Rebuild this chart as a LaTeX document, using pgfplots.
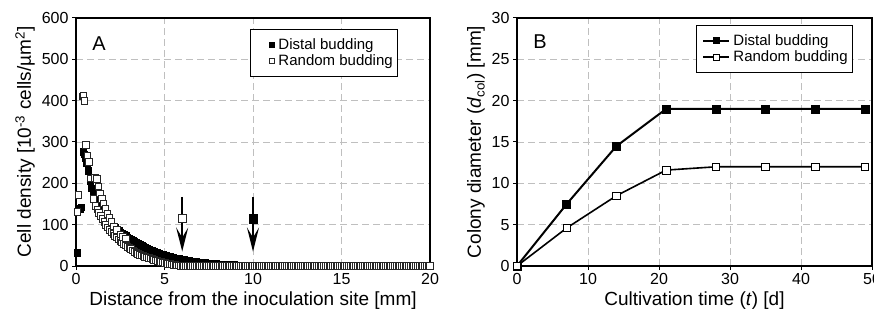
\documentclass[border=0pt]{standalone}
\usepackage{fontspec}
\setmainfont{Liberation Sans}
\usepackage{pgfplots}
\pgfplotsset{compat=1.18}
\usetikzlibrary{arrows.meta}
\begin{document}
\begin{tikzpicture}
\pgfplotsset{
  every axis/.append style={
    scale only axis, height=248pt, anchor=south west,
    axis line style={line width=1.5pt},
    grid=major,
    major grid style={gray!50, dash pattern=on 7pt off 4pt, line width=0.8pt},
    tick align=outside, major tick length=4pt, tick style={black, line width=1pt},
    tick pos=left,
    ticklabel style={font=\fontsize{16}{16}\selectfont},
    /pgf/number format/assume math mode=true,
    label style={font=\fontsize{19}{19}\selectfont},
    legend style={font=\fontsize{15}{17}\selectfont, draw=black, line width=1pt,
      anchor=north west, cells={anchor=west}, inner xsep=3pt, inner ysep=7pt},
  },
  legA/.style={legend image code/.code={\path[draw=none,fill=none] (0pt,-3pt) rectangle (23pt,3pt); \draw[##1, mark size=2.4pt] plot coordinates {(18pt,0pt)};}},
  legB/.style={legend image code/.code={\path[draw=none,fill=none] (0pt,-3pt) rectangle (32pt,3pt); \draw[mark repeat=2, mark phase=2, ##1, line width=1.8pt, mark size=3pt] plot coordinates {(4pt,0pt)(17pt,0pt)(30pt,0pt)};}},
}
% ---------------- Panel A ----------------
\begin{axis}[at={(76pt,55pt)}, width=354pt,
  xmin=0, xmax=20, ymin=0, ymax=600,
  xtick={0,5,10,15,20}, ytick={0,100,200,300,400,500,600},
  xlabel={Distance from the inoculation site [mm]},
  ylabel={Cell density [10\textsuperscript{-3} cells/µm\textsuperscript{2}]},
  legend style={at={(0.4915,0.956)}},
]
\addplot[legA, only marks, mark=square*, mark size=3.3pt, mark options={fill=black, draw=black, line width=0.5pt}] coordinates {
(0.07,32)(0.2,138)(0.3,142)(0.41,276)(0.47,270)(0.52,262)(0.6,250)(0.7,230)(0.8,205)(0.9,188)
(1.0,178)(1.1,165)(1.2,152)(1.3,142)(1.4,133)(1.5,125)(1.6,117)(1.7,112)(1.8,107)(1.9,103)
(2.0,100)(2.1,96)(2.2,92)(2.3,88)(2.4,85)(2.5,82)(2.6,79)(2.7,76)(2.8,73)(2.9,70)
(3.0,67)(3.1,64)(3.2,61)(3.3,58.5)(3.4,56)(3.5,53.5)(3.6,51)(3.7,48.5)(3.8,46.5)(3.9,44.5)
(4.0,42.5)(4.1,40.5)(4.2,38.5)(4.3,36.5)(4.4,35)(4.5,33)(4.6,31.5)(4.7,30)(4.8,28.5)(4.9,27)
(5.0,25.5)(5.1,24.5)(5.2,23)(5.3,22)(5.4,21)(5.5,20)(5.6,19)(5.7,18)(5.8,17)(5.9,16)
(6.0,15.3)(6.1,14.5)(6.2,13.8)(6.3,13)(6.4,12.3)(6.5,11.7)(6.6,11)(6.7,10.4)(6.8,9.8)(6.9,9.2)
(7.0,8.7)(7.1,8.2)(7.2,7.7)(7.3,7.3)(7.4,6.9)(7.5,6.5)(7.6,6.1)(7.7,5.7)(7.8,5.4)(7.9,5.0)
(8.0,4.7)(8.1,4.4)(8.2,4.1)(8.3,3.8)(8.4,3.5)(8.5,3.2)(8.6,3.0)(8.7,2.7)(8.8,2.5)(8.9,2.3)
(9.0,2.1)(9.1,1.9)(9.2,1.7)(9.3,1.55)(9.4,1.4)(9.5,1.25)(9.6,1.1)(9.7,0.95)(9.8,0.8)(9.9,0.7)
(10.0,0.6)(10.1,0)(10.2,0)(10.3,0)(10.4,0)(10.5,0)(10.6,0)(10.7,0)(10.8,0)(10.9,0)
(11,0)(11.1,0)(11.2,0)(11.3,0)(11.4,0)(11.5,0)(11.6,0)(11.7,0)(11.8,0)(11.9,0)
(12,0)(12.1,0)(12.2,0)(12.3,0)(12.4,0)(12.5,0)(12.6,0)(12.7,0)(12.8,0)(12.9,0)
(13,0)(13.1,0)(13.2,0)(13.3,0)(13.4,0)(13.5,0)(13.6,0)(13.7,0)(13.8,0)(13.9,0)
(14,0)(14.1,0)(14.2,0)(14.3,0)(14.4,0)(14.5,0)(14.6,0)(14.7,0)(14.8,0)(14.9,0)
(15,0)(15.1,0)(15.2,0)(15.3,0)(15.4,0)(15.5,0)(15.6,0)(15.7,0)(15.8,0)(15.9,0)
(16,0)(16.1,0)(16.2,0)(16.3,0)(16.4,0)(16.5,0)(16.6,0)(16.7,0)(16.8,0)(16.9,0)
(17,0)(17.1,0)(17.2,0)(17.3,0)(17.4,0)(17.5,0)(17.6,0)(17.7,0)(17.8,0)(17.9,0)
(18,0)(18.1,0)(18.2,0)(18.3,0)(18.4,0)(18.5,0)(18.6,0)(18.7,0)(18.8,0)(18.9,0)
(19,0)(19.1,0)(19.2,0)(19.3,0)(19.4,0)(19.5,0)(19.6,0)(19.7,0)(19.8,0)(19.9,0)
(20,0)
};
\addlegendentry{Distal budding}
\addplot[legA, only marks, mark=square*, mark size=3.3pt, mark options={fill=white, draw=black!85, line width=0.6pt}] coordinates {
(0.07,131)(0.13,172)(0.38,411)(0.42,413)(0.47,399)(0.55,293)(0.64,268)(0.73,252)(0.8,212)
(0.98,162)(1.1,146)(1.2,137)(1.3,129)(1.4,121)(1.5,114)(1.6,107)(1.7,100)(1.8,94)(1.9,88)
(2.0,83)(2.1,78)(2.2,73)(2.3,69)(2.4,65)(2.5,61)(2.6,57)(2.7,54)(2.8,50)(2.9,47)
(1.07,213)(1.17,211)(1.26,193)(1.36,176)(1.45,163)(1.54,152)(1.65,139)(1.77,127)(1.88,116)
(2.0,107)(2.15,96)(2.3,87)(2.5,77)(2.65,71)(2.82,67)
(3.0,44)(3.1,41)(3.2,38)(3.3,35)(3.4,32)(3.5,29)(3.6,27)(3.7,25.5)(3.8,24)(3.9,22.5)
(4.0,21)(4.1,20)(4.2,18.5)(4.3,17)(4.4,15.5)(4.5,14)(4.6,12.5)(4.7,11)(4.8,9.8)(4.9,8.6)
(5.0,7.5)(5.1,6.5)(5.2,5.6)(5.3,4.8)(5.4,4.0)(5.5,3.3)(5.6,2.7)(5.7,2.1)(5.8,1.6)(5.9,1.2)
(6.0,0.8)(6.1,0.5)(6.2,0.3)(6.3,0.2)(6.4,0.1)(6.5,0)(6.6,0)(6.7,0)(6.8,0)(6.9,0)
(7,0)(7.1,0)(7.2,0)(7.3,0)(7.4,0)(7.5,0)(7.6,0)(7.7,0)(7.8,0)(7.9,0)
(8,0)(8.1,0)(8.2,0)(8.3,0)(8.4,0)(8.5,0)(8.6,0)(8.7,0)(8.8,0)(8.9,0)
(9,0)(9.1,0)(9.2,0)(9.3,0)(9.4,0)(9.5,0)(9.6,0)(9.7,0)(9.8,0)(9.9,0)
(10,0)(10.1,0)(10.2,0)(10.3,0)(10.4,0)(10.5,0)(10.6,0)(10.7,0)(10.8,0)(10.9,0)
(11,0)(11.1,0)(11.2,0)(11.3,0)(11.4,0)(11.5,0)(11.6,0)(11.7,0)(11.8,0)(11.9,0)
(12,0)(12.1,0)(12.2,0)(12.3,0)(12.4,0)(12.5,0)(12.6,0)(12.7,0)(12.8,0)(12.9,0)
(13,0)(13.1,0)(13.2,0)(13.3,0)(13.4,0)(13.5,0)(13.6,0)(13.7,0)(13.8,0)(13.9,0)
(14,0)(14.1,0)(14.2,0)(14.3,0)(14.4,0)(14.5,0)(14.6,0)(14.7,0)(14.8,0)(14.9,0)
(15,0)(15.1,0)(15.2,0)(15.3,0)(15.4,0)(15.5,0)(15.6,0)(15.7,0)(15.8,0)(15.9,0)
(16,0)(16.1,0)(16.2,0)(16.3,0)(16.4,0)(16.5,0)(16.6,0)(16.7,0)(16.8,0)(16.9,0)
(17,0)(17.1,0)(17.2,0)(17.3,0)(17.4,0)(17.5,0)(17.6,0)(17.7,0)(17.8,0)(17.9,0)
(18,0)(18.1,0)(18.2,0)(18.3,0)(18.4,0)(18.5,0)(18.6,0)(18.7,0)(18.8,0)(18.9,0)
(19,0)(19.1,0)(19.2,0)(19.3,0)(19.4,0)(19.5,0)(19.6,0)(19.7,0)(19.8,0)(19.9,0)
(20,0)
};
\addlegendentry{Random budding}
% arrows marking colony edges
\addplot[forget plot, black, line width=1.8pt, -{Stealth[length=24pt, width=12pt, inset=10pt]}] coordinates {(6,167)(6,35)};
\addplot[forget plot, black, line width=1.8pt, -{Stealth[length=24pt, width=12pt, inset=10pt]}] coordinates {(10,167)(10,35)};
\addplot[forget plot, only marks, mark=square*, mark size=4.3pt, mark options={fill=white, draw=black!85, line width=0.7pt}] coordinates {(6,115)};
\addplot[forget plot, only marks, mark=square*, mark size=4.3pt, mark options={fill=black, draw=black}] coordinates {(10,115)};
\node[font=\fontsize{20}{20}\selectfont] at (rel axis cs:0.065,0.897) {A};
\end{axis}
% ---------------- Panel B ----------------
\begin{axis}[at={(517pt,55pt)}, width=355pt,
  xmin=0, xmax=50, ymin=0, ymax=30,
  xtick={0,10,20,30,40,50}, ytick={0,5,10,15,20,25,30},
  xlabel={Cultivation time (\textit{t}) [d]},
  ylabel={Colony diameter (\textit{d}\textsubscript{col}) [mm]},
  legend style={at={(0.504,0.972)}},
  clip=false,
]
\addplot[legB, black, line width=2pt, mark=square*, mark size=4pt, mark options={fill=black, solid, line width=0.5pt}] coordinates {
(0,0)(7,7.5)(14,14.5)(21,19)(28,19)(35,19)(42,19)(49,19)
};
\addlegendentry{Distal budding}
\addplot[legB, black, line width=1.6pt, mark=square*, mark size=3.8pt, mark options={fill=white, solid, line width=0.7pt}] coordinates {
(0,0)(7,4.6)(14,8.5)(21,11.6)(28,12)(35,12)(42,12)(49,12)
};
\addlegendentry{Random budding}
\node[font=\fontsize{20}{20}\selectfont] at (rel axis cs:0.065,0.905) {B};
\end{axis}
\pgfresetboundingbox
\path (0pt,0pt) rectangle (874pt,321pt);
\end{tikzpicture}
\end{document}
